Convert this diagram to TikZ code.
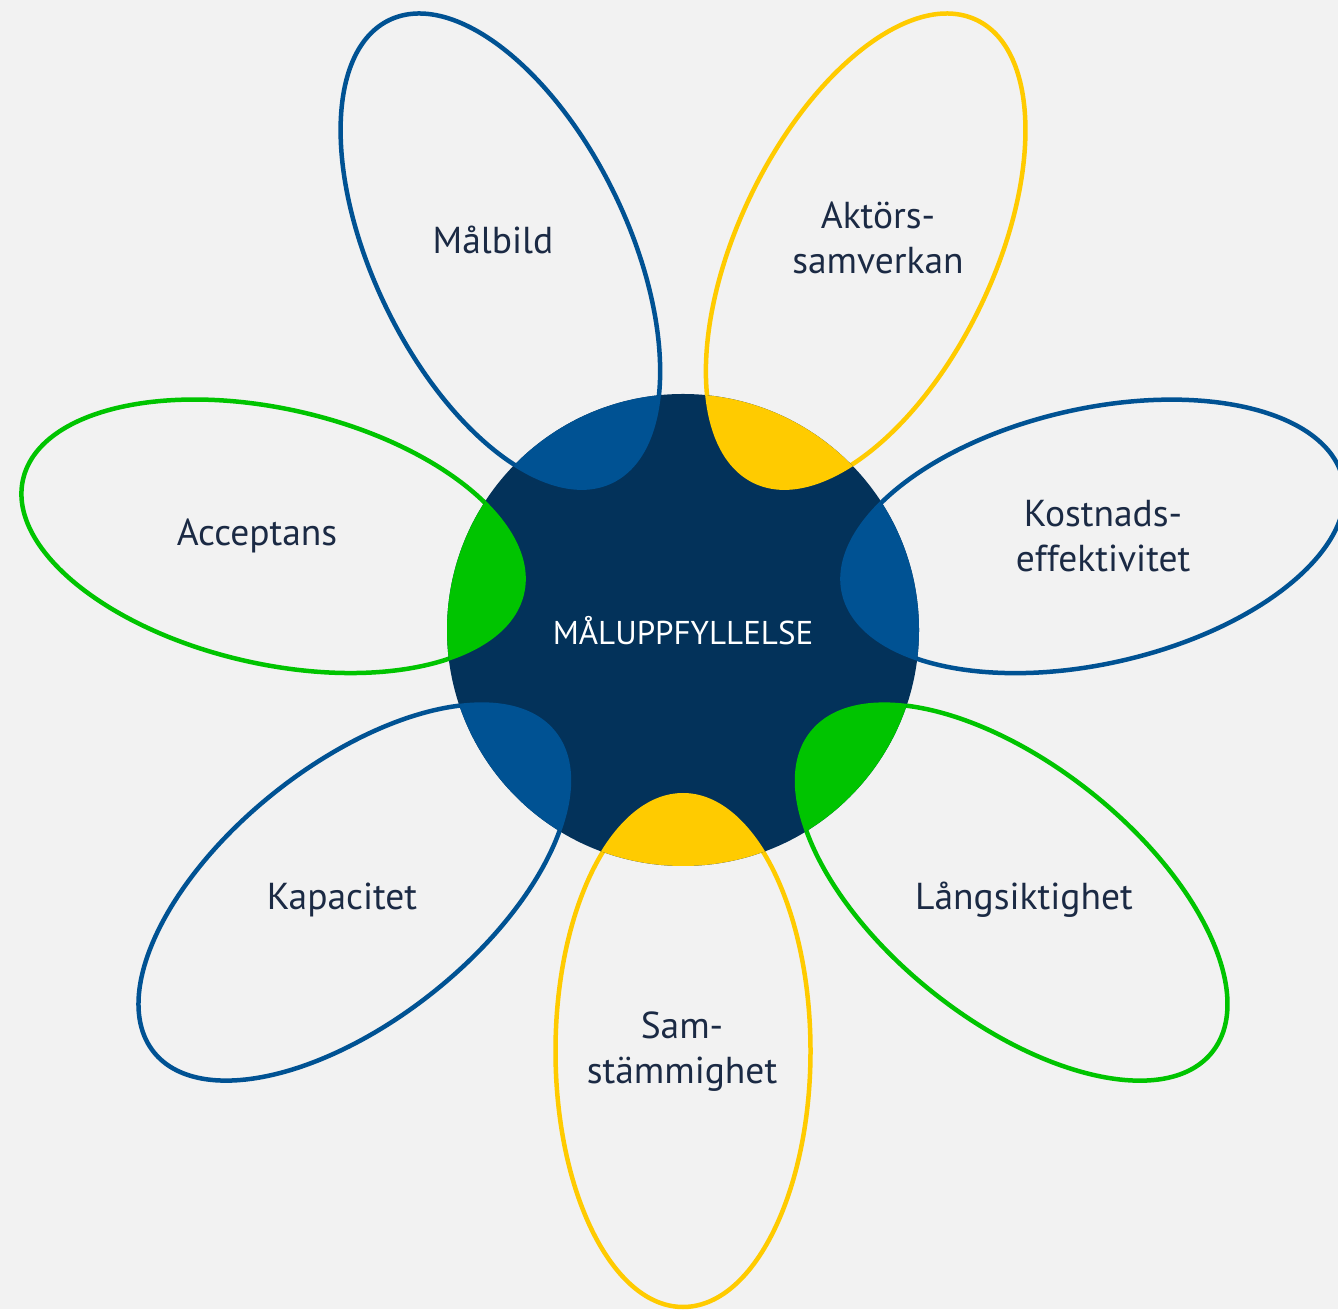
\documentclass[tikz,border=0pt]{standalone}
\usepackage{fontspec}
\setmainfont{PT Sans}
\usetikzlibrary{calc}
\definecolor{bg}{HTML}{F2F2F2}
\definecolor{navy}{HTML}{03325A}
\definecolor{pblue}{HTML}{005293}
\definecolor{pyellow}{HTML}{FFCB00}
\definecolor{pgreen}{HTML}{00C400}
\definecolor{txt}{HTML}{1B2A44}
\tikzset{
  petaltext/.style={text=txt, align=center, font=\fontsize{37.5}{45}\selectfont, inner sep=0pt},
  petalline/.style={line width=4.5pt},
}
\begin{document}
\begin{tikzpicture}[x=1pt,y=1pt]
\fill[bg] (0,0) rectangle (1338,1309);
\useasboundingbox (0,0) rectangle (1338,1309);
\coordinate (c) at (683,679);
% petal outlines
\foreach \a/\col in {-90/pyellow, -38.571/pgreen, 12.857/pblue, 64.286/pyellow, 115.714/pblue, 167.143/pgreen, 218.571/pblue}{
  \draw[petalline, draw=\col, rotate around={\a:(c)}] ($(c)+(421pt,0)$) ellipse [x radius=256pt, y radius=127.5pt];
}
% centre disc
\fill[navy] (c) circle [radius=236pt];
\begin{scope}
  \clip (c) circle [radius=236pt];
  \foreach \a/\col in {-90/pyellow, -38.571/pgreen, 12.857/pblue, 64.286/pyellow, 115.714/pblue, 167.143/pgreen, 218.571/pblue}{
    \fill[\col, rotate around={\a:(c)}] ($(c)+(421pt,0)$) ellipse [x radius=258pt, y radius=129.5pt];
  }
\end{scope}
\node[text=white, inner sep=0pt, font=\fontsize{33}{38}\selectfont] (centre) at (683,678) {MÅLUPPFYLLELSE};
\node[petaltext] (malbild) at (493,1069) {Målbild};
\node[petaltext] (aktor) at (878,1071) {Aktörs-\\samverkan};
\node[petaltext] (kostnad) at (1103,773) {Kostnads-\\effektivitet};
\node[petaltext] (accept) at (257,773) {Acceptans};
\node[petaltext] (kapacitet) at (342,409) {Kapacitet};
\node[petaltext] (lang) at (1024,409) {Långsiktighet};
\node[petaltext] (samst) at (682,257) {Sam-\\stämmighet};
\end{tikzpicture}
\end{document}
